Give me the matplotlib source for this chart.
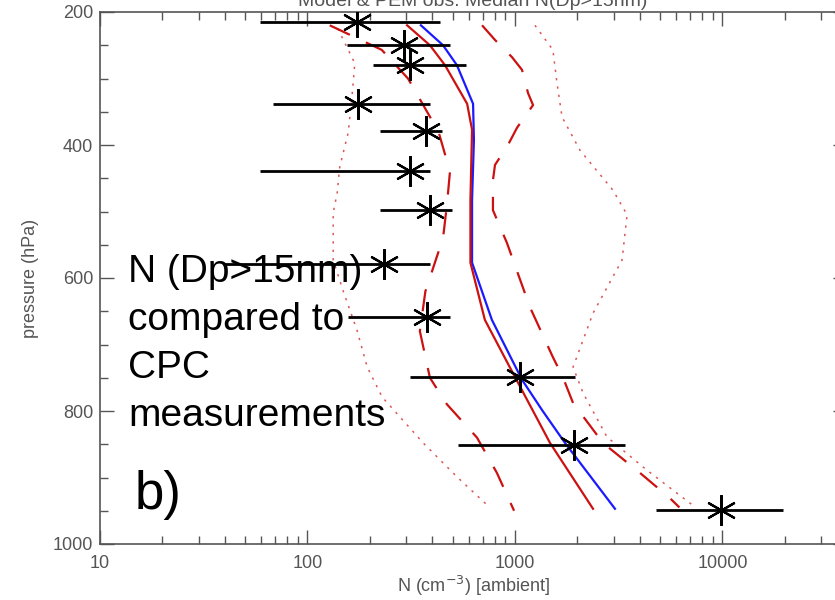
import matplotlib
matplotlib.use("Agg")
import matplotlib.pyplot as plt
from matplotlib.ticker import MultipleLocator, FixedLocator, LogLocator, NullFormatter

# Observations (CPC)
obs_p = [215, 250, 280, 338, 379, 439, 498, 579, 659, 749, 851, 949]
obs_n = [173, 292, 312, 175, 372, 312, 389, 234, 377, 1060, 1920, 9800]
obs_lo = [59, 155, 207, 68, 223, 59, 223, 39, 157, 312, 531, 4800]
obs_hi = [435, 486, 581, 389, 445, 389, 497, 389, 486, 1950, 3400, 19500]

# Model curves
blue_p = [220, 250, 280, 338, 392, 483, 577, 663, 753, 800, 848, 947]
blue_n = [352, 450, 525, 628, 634, 621, 621, 774, 1081, 1360, 1742, 3033]

red_p = [220, 250, 280, 338, 377, 483, 577, 663, 743, 848, 947]
red_n = [302, 389, 460, 588, 621, 610, 610, 716, 977, 1475, 2377]

dashL_p = [220, 257, 300, 380, 440, 490, 540, 620, 680, 750, 790, 840, 893, 950]
dashL_n = [128, 228, 305, 428, 486, 470, 450, 370, 348, 389, 470, 656, 818, 990]

dashR_p = [220, 242, 268, 287, 322, 340, 374, 400, 430, 453, 498, 547, 644, 719, 749, 788, 848, 893, 931, 945]
dashR_n = [694, 801, 968, 1081, 1156, 1222, 1023, 925, 801, 783, 783, 914, 1181, 1523, 1700, 1905, 2655, 4000, 5580, 6200]

dotL_p = [225, 277, 317, 382, 433, 472, 502, 573, 618, 678, 734, 779, 848, 899, 941]
dotL_n = [140, 169, 165, 157, 143, 139, 133, 133, 148, 173, 194, 229, 361, 525, 732]

dotR_p = [220, 257, 307, 358, 408, 468, 505, 573, 653, 734, 773, 839, 889, 942]
dotR_n = [1248, 1523, 1594, 1686, 2058, 2966, 3470, 3280, 2377, 1905, 2130, 2775, 4325, 7210]

x_ticks = [10, 100, 1000, 10000]
x_ticklabels = ["10", "100", "1000", "10000"]
y_ticks = [200, 400, 600, 800, 1000]
y_ticklabels = ["200", "400", "600", "800", "1000"]

W, H = 835, 600
fig = plt.figure(figsize=(W / 100, H / 100), dpi=100)
ax = fig.add_axes([100 / W, 1 - 544 / H, 747.4 / W, 532 / H])

gray = "#555555"
red = "#cc1111"
lred = "#dd5555"

ax.plot(dotL_n, dotL_p, color=lred, lw=1.1, linestyle=(0, (1.5, 4)))
ax.plot(dotR_n, dotR_p, color=lred, lw=1.1, linestyle=(0, (1.5, 4)))
ax.plot(dashL_n, dashL_p, color=red, lw=1.6, linestyle=(0, (10, 8)))
ax.plot(dashR_n, dashR_p, color=red, lw=1.6, linestyle=(0, (10, 8)))
ax.plot(blue_n, blue_p, color="#1a1aff", lw=1.6)
ax.plot(red_n, red_p, color=red, lw=1.6)

ax.hlines(obs_p, obs_lo, obs_hi, color="black", lw=2.0, zorder=5)
ax.plot(obs_n, obs_p, linestyle="none", marker=(6, 2, 0), markersize=22,
        markeredgewidth=1.6, color="black", zorder=6)

ax.set_xscale("log")
ax.set_xlim(10, 40000)
ax.set_ylim(1000, 200)

ax.xaxis.set_major_locator(FixedLocator(x_ticks))
ax.set_xticklabels(x_ticklabels)
ax.xaxis.set_minor_locator(LogLocator(base=10, subs=range(2, 10)))
ax.xaxis.set_minor_formatter(NullFormatter())
ax.yaxis.set_major_locator(FixedLocator(y_ticks))
ax.set_yticklabels(y_ticklabels)
ax.yaxis.set_minor_locator(MultipleLocator(50))

ax.tick_params(which="both", direction="in", top=True, right=True, colors=gray,
               labelcolor=gray, labelsize=13, width=1.0)
ax.tick_params(which="major", length=10, pad=5)
ax.tick_params(axis="x", which="major", pad=8)
ax.tick_params(which="minor", length=6)
for sp in ax.spines.values():
    sp.set_color(gray)
    sp.set_linewidth(1.2)

for lab in ax.get_xticklabels() + ax.get_yticklabels():
    lab.set_fontfamily("Liberation Sans")

ax.set_xlabel("N (cm$^{-3}$) [ambient]", color=gray, fontsize=13,
              family="Liberation Sans", labelpad=1)
ax.set_ylabel("pressure (hPa)", color=gray, fontsize=13,
              family="Liberation Sans", labelpad=10)

fig.text(473 / W, 1 - 6 / H, "Model & PEM obs. Median N(Dp>15nm)", color=gray,
         fontsize=14, ha="center", va="baseline", family="Liberation Sans")

ax.text(128 / W, 1 - 254 / H, "N (Dp>15nm)\ncompared to\nCPC\nmeasurements",
        transform=fig.transFigure, fontsize=28, family="Liberation Sans",
        va="top", ha="left", linespacing=1.43, color="black", zorder=4)
ax.text(135 / W, 1 - 495 / H, "b)", transform=fig.transFigure, fontsize=38,
        family="Liberation Sans", va="center", ha="left", color="black")

fig.savefig("out.png", dpi=100)
